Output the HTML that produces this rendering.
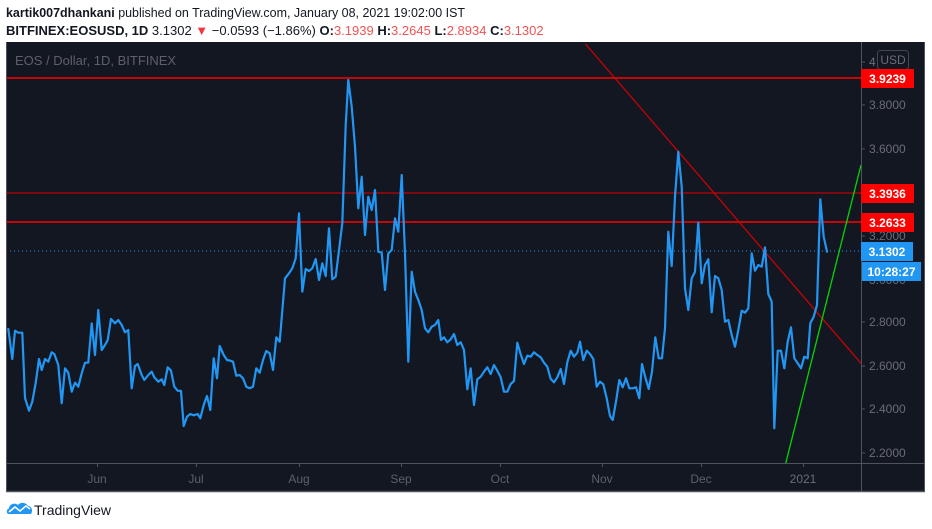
<!DOCTYPE html>
<html><head><meta charset="utf-8"><style>
html,body{margin:0;padding:0;background:#fff;width:932px;height:529px;overflow:hidden;}
svg{display:block;}
text{font-family:"Liberation Sans",sans-serif;}
</style></head><body>
<svg width="932" height="529" viewBox="0 0 932 529" xmlns="http://www.w3.org/2000/svg">
<rect x="0" y="0" width="932" height="529" fill="#ffffff"/>
<!-- header -->
<text x="6" y="17" font-size="13" fill="#131722" textLength="459" lengthAdjust="spacingAndGlyphs"><tspan font-weight="bold">kartik007dhankani</tspan> published on TradingView.com, January 08, 2021 19:02:00 IST</text>
<text x="6" y="35" font-size="13" fill="#131722"><tspan font-weight="bold">BITFINEX:EOSUSD, 1D</tspan> 3.1302 <tspan fill="#f23645">▼</tspan> −0.0593 (−1.86%) <tspan font-weight="bold">O:</tspan><tspan fill="#f05454">3.1939</tspan> <tspan font-weight="bold">H:</tspan><tspan fill="#f05454">3.2645</tspan> <tspan font-weight="bold">L:</tspan><tspan fill="#f05454">2.8934</tspan> <tspan font-weight="bold">C:</tspan><tspan fill="#f05454">3.1302</tspan></text>

<!-- chart frame -->
<rect x="6" y="42" width="919" height="450" fill="#131722"/>
<clipPath id="pane"><rect x="7" y="42" width="854" height="421"/></clipPath>
<text x="15" y="65" font-size="13" fill="#5d606b">EOS / Dollar, 1D, BITFINEX</text>

<g clip-path="url(#pane)">
<!-- horizontal levels -->
<line x1="6" y1="78" x2="861" y2="78" stroke="#ff0000" stroke-width="1.6"/>
<line x1="6" y1="193" x2="861" y2="193" stroke="#e00000" stroke-width="1"/>
<line x1="6" y1="222" x2="861" y2="222" stroke="#ff0000" stroke-width="1.6"/>
<line x1="6" y1="251" x2="861" y2="251" stroke="#2196f3" stroke-width="1" stroke-dasharray="1,3"/>
<!-- trend lines -->
<line x1="585.5" y1="44" x2="861" y2="363.3" stroke="#d40000" stroke-width="1.2"/>
<line x1="785.8" y1="463" x2="861" y2="165" stroke="#00d800" stroke-width="1.3"/>
<!-- price series -->
<polyline fill="none" stroke="#2196f3" stroke-width="2.2" stroke-linejoin="round" stroke-linecap="round" points="8.3,329 12.3,359 15,330.7 18.3,332.7 22.3,332.7 25,398 29,410.7 32.3,401.7 35.7,383 39,359 41.7,370 45,359 48.3,361.7 51.7,352.3 54.3,354 58.3,365 61.7,403.3 65,368.3 68.3,372.7 71.7,391.7 75,382.7 78.3,386.7 81.7,373.3 85,362.7 88.3,362.7 91.7,323.3 95,355 98.3,310 101.7,350 105,345 107.7,340 111,319 115,323.3 118.3,320 121.7,325 125,332.3 128.3,330 131.7,388.3 135,366 137.7,364 141.7,375 144.3,380 148.3,375 151.7,371.7 154.3,377.3 158.3,381.7 161.7,379.3 164.3,385 167.7,367.3 171,370.7 174.3,386.7 177.7,390.7 181,391 183.7,426 187,416.7 190.3,414 193.7,415.3 197.7,414 200.3,418.3 203.7,405 207,396 210.3,410 213.7,358.3 217,378.3 219.7,346 223.7,355 227,360 230.3,360.7 233,361.7 236.3,375.7 239.7,375 243,378.3 246.3,386.7 249.7,388.3 253,386.7 256.3,368.3 259.7,372.7 263,360 266.3,351 269.7,353.3 273,370 276.3,337.3 279.7,341.7 285,278.3 289,273.3 292.3,268.3 295.7,258.3 299,213.3 302.3,291.7 305.7,269 309,271 312.3,268.3 315.7,259 319,280 322.3,263.3 325.7,276 329,228.3 332.3,279.3 335.7,276.7 339,250 342.3,223.3 345.7,125 348.3,80 351.7,106.7 355,146.7 358.3,208.3 361.7,176.7 365,235 368.3,196.7 371.7,210 375,190 378.3,251.7 381.7,252.7 385,290 388.3,253.3 391.7,250 395,218.3 398.3,231.7 401.7,175 405,253.3 408.3,361.7 411.7,271.7 415,291.7 418.3,300 421.7,310 425,328.3 428.3,332.3 431.7,326.7 435,325 438.3,320 441,340 444,337.3 447.3,342.3 450.7,339.3 454,334 457.3,345 460.7,342.3 464,350 467.3,389.3 470.7,368.3 474,405 477.3,379.3 480.7,376.7 484,371.7 487.3,367.3 490.7,374 494,365 497.3,370.7 500.7,377.3 504,391.7 507.3,391.7 510.7,384 514,381 517.3,342.7 520.7,354.3 524,364 527.3,355.7 530.7,356.7 534,352.3 537.3,355 540.7,357.3 544,362.7 547.3,366.7 550.7,379 554,382.3 557.3,377.3 560.7,369 564,384 567.3,362.3 570.7,350.7 574,356.7 577.3,352.7 580,341.7 583.3,360 586.7,350.7 590,354 593.3,359 596.7,386.7 600,381.7 603.3,384.3 606.7,398.3 610,416 612.7,420 616,401.7 619.3,380 622.7,387.3 626,378.3 629.3,388.3 632.7,388.3 636,387.3 639.3,398.3 642,364 645.3,377.3 648.7,389 652,371.7 655.3,337.3 658.7,358.3 662,358.3 665,328.3 668.3,231.7 671.7,266 675,196.7 678.3,151.7 681.7,186.7 685,288.3 688.3,310 691.7,278.3 695,271.7 698.3,222.7 701.7,283.3 705,265 708.3,259.3 711.7,312.3 715,276 718.3,278.3 721.7,290 725,321.7 728.3,320 731.7,335 735,346.7 738.3,330 741.7,310.7 745,312.7 748.3,308.3 751.7,253.3 755,270.7 758.3,265 761.7,266.7 765,247.3 768.3,294 771.7,301.7 774.3,428.3 777.7,350.7 781,350.7 784.3,368.3 787.7,341.7 791,327.3 794.3,358.3 797.7,363.3 801,368.3 804.3,356.7 807.7,358.3 810.3,323.3 813.7,316.7 817,305 820.3,199.3 823.7,236.7 827,251.7"/>
</g>

<!-- frame lines -->
<line x1="6.5" y1="42" x2="6.5" y2="492" stroke="#50535e" stroke-width="1"/>
<line x1="924.5" y1="42" x2="924.5" y2="492" stroke="#50535e" stroke-width="1"/>
<line x1="6" y1="491.5" x2="925" y2="491.5" stroke="#50535e" stroke-width="1.5"/>
<line x1="861.5" y1="42" x2="861.5" y2="492" stroke="#50535e" stroke-width="1"/>
<line x1="6" y1="463.5" x2="925" y2="463.5" stroke="#50535e" stroke-width="1"/>

<!-- price axis ticks & labels -->
<g stroke="#50535e" stroke-width="1">
<line x1="861" y1="62" x2="865" y2="62"/>
<line x1="861" y1="105" x2="865" y2="105"/>
<line x1="861" y1="149" x2="865" y2="149"/>
<line x1="861" y1="236" x2="865" y2="236"/>
<line x1="861" y1="322" x2="865" y2="322"/>
<line x1="861" y1="366" x2="865" y2="366"/>
<line x1="861" y1="409" x2="865" y2="409"/>
<line x1="861" y1="453" x2="865" y2="453"/>
</g>
<g font-size="12" fill="#6a6d78">
<text x="869" y="66">4</text>
<text x="869" y="109">3.8000</text>
<text x="869" y="153">3.6000</text>
<text x="869" y="240">3.2000</text>
<text x="869" y="284">3.0000</text>
<text x="869" y="326">2.8000</text>
<text x="869" y="370">2.6000</text>
<text x="869" y="413">2.4000</text>
<text x="869" y="457">2.2000</text>
</g>
<rect x="877.5" y="50.5" width="31" height="19" rx="3" fill="#131722" stroke="#434651" stroke-width="1"/>
<text x="893" y="64" font-size="12" fill="#6a6d78" text-anchor="middle">USD</text>

<!-- price labels -->
<rect x="861" y="69" width="53" height="19" fill="#ff0000"/>
<text x="887.5" y="83" font-size="12" font-weight="bold" fill="#ffffff" text-anchor="middle">3.9239</text>
<rect x="861" y="184" width="53" height="19" fill="#ff0000"/>
<text x="887.5" y="198" font-size="12" font-weight="bold" fill="#ffffff" text-anchor="middle">3.3936</text>
<rect x="861" y="213" width="53" height="19" fill="#ff0000"/>
<text x="887.5" y="227" font-size="12" font-weight="bold" fill="#ffffff" text-anchor="middle">3.2633</text>
<rect x="861" y="242" width="52" height="19" fill="#2196f3"/>
<text x="887" y="256" font-size="12" font-weight="bold" fill="#ffffff" text-anchor="middle">3.1302</text>
<rect x="862" y="262" width="59" height="19" fill="#2196f3"/>
<text x="891.5" y="276" font-size="12" font-weight="bold" fill="#ffffff" text-anchor="middle">10:28:27</text>

<!-- time axis -->
<g stroke="#50535e" stroke-width="1">
<line x1="97.5" y1="463" x2="97.5" y2="467"/>
<line x1="196.5" y1="463" x2="196.5" y2="467"/>
<line x1="299.5" y1="463" x2="299.5" y2="467"/>
<line x1="401.5" y1="463" x2="401.5" y2="467"/>
<line x1="500.5" y1="463" x2="500.5" y2="467"/>
<line x1="602.5" y1="463" x2="602.5" y2="467"/>
<line x1="701.5" y1="463" x2="701.5" y2="467"/>
<line x1="803.5" y1="463" x2="803.5" y2="467"/>
</g>
<g font-size="12" fill="#5d606b" text-anchor="middle">
<text x="97" y="483">Jun</text>
<text x="196" y="483">Jul</text>
<text x="299" y="483">Aug</text>
<text x="401" y="483">Sep</text>
<text x="500" y="483">Oct</text>
<text x="602" y="483">Nov</text>
<text x="701" y="483">Dec</text>
<text x="803" y="483" fill="#6a6d78">2021</text>
</g>

<!-- TradingView logo -->
<g transform="translate(6,501)">
<path d="M3,13 C0,13 0,8 3,7.5 C3,3 9,1 12,4 C14,1 20,1 22,5 C26,5 27,10 25,13 Z" fill="#2196f3"/>
<polyline points="3,11 9,6 14,10 20,5 24,8" fill="none" stroke="#ffffff" stroke-width="1.6"/>
</g>
<text x="34" y="515" font-size="14" fill="#131722">TradingView</text>
</svg>
</body></html>
